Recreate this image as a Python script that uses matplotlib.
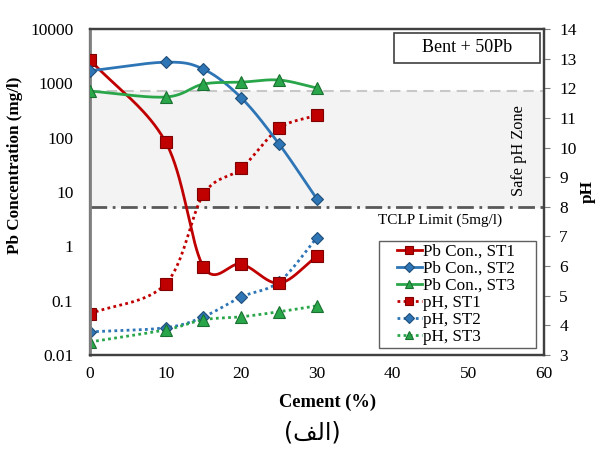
import matplotlib
matplotlib.use('Agg')
import matplotlib.pyplot as plt
import numpy as np
from matplotlib.patches import Rectangle

# data
cement = [0, 10, 15, 20, 25, 30]

pb_st1 = [2700, 83, 0.42, 0.47, 0.21, 0.66]
pb_st2 = [1700, 2450, 1820, 540, 76, 7.4]
pb_st3 = [720, 560, 970, 1050, 1150, 820]

ph_st1 = [4.39, 5.40, 8.42, 9.30, 10.65, 11.09]
ph_st2 = [3.78, 3.92, 4.29, 4.96, 5.47, 6.96]
ph_st3 = [3.44, 3.85, 4.19, 4.29, 4.46, 4.66]

tclp_limit = 5       # mg/l
safe_ph = (8, 11.9)  # safe pH zone

RED, RED_E = '#C00000', '#7F0000'
BLUE, BLUE_E = '#2E75B6', '#1F4E79'
GREEN, GREEN_E = '#2AA64A', '#1A7030'


def smooth(x, y, n=40):
    # catmull-rom spline, similar to excel "smoothed line"
    pts = np.column_stack([x, y]).astype(float)
    ext = np.vstack([2 * pts[0] - pts[1], pts, 2 * pts[-1] - pts[-2]])
    t = np.linspace(0, 1, n)[:, None]
    h00 = 2 * t**3 - 3 * t**2 + 1
    h10 = t**3 - 2 * t**2 + t
    h01 = -2 * t**3 + 3 * t**2
    h11 = t**3 - t**2
    out = []
    for i in range(1, len(ext) - 2):
        p0, p1, p2, p3 = ext[i - 1:i + 3]
        m1 = (p2 - p0) / 2
        m2 = (p3 - p1) / 2
        out.append(h00 * p1 + h10 * m1 + h01 * p2 + h11 * m2)
    out = np.vstack(out)
    return out[:, 0], out[:, 1]


plt.rcParams['font.family'] = ['Liberation Serif', 'DejaVu Serif']

fig = plt.figure(figsize=(5.98, 4.59), dpi=100)
ax2 = fig.add_axes([0.1505, 0.2266, 0.7592, 0.7102])
ax = ax2.twinx()
# left (log) axis drawn in front of the pH axis
ax.yaxis.tick_left()
ax.yaxis.set_label_position('left')
ax2.yaxis.tick_right()
ax2.yaxis.set_label_position('right')

# pH axis: safe zone + pH curves
ax2.axhspan(safe_ph[0], safe_ph[1], color='#F3F3F3', zorder=0)
ax2.axhline(safe_ph[1], color='#C8C8C8', lw=1.5, ls=(0, (5, 3)), zorder=1)
ax2.axhline(safe_ph[0], color='#595959', lw=2, ls=(0, (6, 2, 1, 2)), zorder=1)

ph_handles = []
for vals, c, ce, m, ms, lab in [(ph_st1, RED, RED_E, 's', 8, 'pH, ST1'),
                                (ph_st2, BLUE, BLUE_E, 'D', 6, 'pH, ST2'),
                                (ph_st3, GREEN, GREEN_E, '^', 8, 'pH, ST3')]:
    sx, sy = smooth(cement, vals)
    ax2.plot(sx, sy, color=c, lw=2, ls=(0, (1, 1.2)), zorder=3)
    ax2.plot(cement, vals, ls='none', marker=m, ms=ms, mfc=c, mec=ce, mew=0.8, zorder=4)
    h, = ax2.plot([], [], color=c, lw=2, ls=(0, (1, 1.2)), marker=m, ms=ms, mfc=c, mec=ce, mew=0.8)
    ph_handles.append((h, lab))

ax2.set_ylim(3, 14)
ax2.set_yticks(range(3, 15))
ax2.set_xlim(0, 60)

# Pb concentration curves (log axis)
pb_handles = []
for vals, c, ce, m, ms, lab in [(pb_st1, RED, RED_E, 's', 8, 'Pb Con., ST1'),
                                (pb_st2, BLUE, BLUE_E, 'D', 6, 'Pb Con., ST2'),
                                (pb_st3, GREEN, GREEN_E, '^', 8, 'Pb Con., ST3')]:
    sx, sy = smooth(cement, np.log10(vals))
    ax.plot(sx, 10**sy, color=c, lw=2, zorder=3, solid_capstyle='round')
    ax.plot(cement, vals, ls='none', marker=m, ms=ms, mfc=c, mec=ce, mew=0.8, zorder=4)
    h, = ax.plot([], [], color=c, lw=2, marker=m, ms=ms, mfc=c, mec=ce, mew=0.8)
    pb_handles.append((h, lab))

ax.set_yscale('log')
ax.set_ylim(0.01, 10000)
ax.set_yticks([0.01, 0.1, 1, 10, 100, 1000, 10000])
ax.set_yticklabels(['0.01', '0.1', '1', '10', '100', '1000', '10000'])
ax.minorticks_off()
ax.set_xlim(0, 60)
ax2.set_xticks(range(0, 61, 10))

for a in (ax, ax2):
    for s in a.spines.values():
        s.set_color('#404040')
        s.set_linewidth(1.6)
ax.spines['left'].set_color('#808080')
ax.spines['left'].set_linewidth(2)

ax.tick_params(axis='y', length=0, pad=12, labelsize=12.5)
ax2.tick_params(axis='x', length=0, pad=8, labelsize=12.5)
ax2.tick_params(axis='y', length=4, color='#808080', pad=7, labelsize=12.5)

ax.set_ylabel('Pb Concentration (mg/l)', fontsize=12.3, fontweight='bold')
ax.yaxis.set_label_coords(-0.148, 0.583)
ax2.set_xlabel('Cement (%)', fontsize=13.3, fontweight='bold')
ax2.xaxis.set_label_coords(0.524, -0.12)
fig.text(0.983, 0.582, 'pH', rotation=90, fontsize=12.3, fontweight='bold',
         ha='center', va='center')

ax2.text(56.7, 9.9, 'Safe pH Zone', rotation=90, fontsize=11.8, ha='center', va='center', zorder=5)
ax2.text(46.2, 7.55, 'TCLP Limit (5mg/l)', fontsize=11, ha='center', va='center', zorder=5)

ax.add_patch(Rectangle((0.670, 0.896), 0.321, 0.092, transform=ax.transAxes,
                       fc='white', ec='#404040', lw=1.2, zorder=6))
ax.text(0.83, 0.942, 'Bent + 50Pb', transform=ax.transAxes, fontsize=13,
        ha='center', va='center', zorder=7)

# legend frame drawn separately (wider side padding than matplotlib allows)
ax.add_patch(Rectangle((0.637, 0.021), 0.345, 0.329, transform=ax.transAxes,
                       fc='white', ec='#606060', lw=1.0, zorder=7))
handles = [h for h, _ in pb_handles + ph_handles]
labels = [l for _, l in pb_handles + ph_handles]
leg = ax.legend(handles, labels, loc='center', bbox_to_anchor=(0.806, 0.186),
                fontsize=12.3, frameon=False, borderpad=0, labelspacing=0.06,
                handlelength=1.5, handletextpad=0.05, borderaxespad=0, markerscale=0.8)
leg.set_zorder(8)

fig.text(0.522, 0.057, '(' + '\ufed2\ufedf\ufe8d' + ')', fontsize=17,
         family=['DejaVu Sans'], ha='center', va='center')

fig.savefig('out.png', dpi=100)
